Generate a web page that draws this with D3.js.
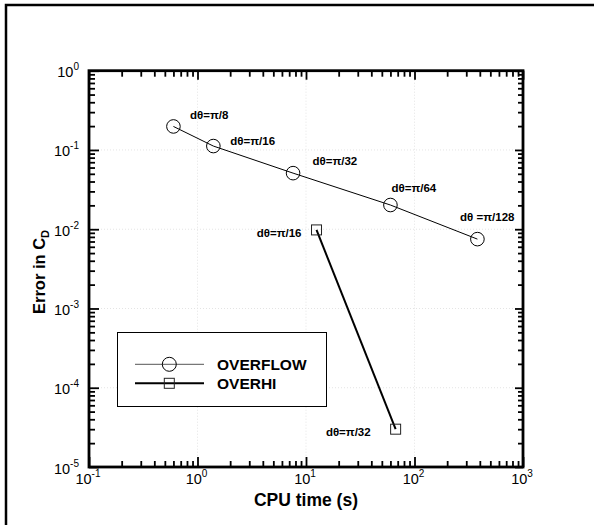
<!DOCTYPE html>
<html>
<head>
<meta charset="utf-8">
<script src="https://cdnjs.cloudflare.com/ajax/libs/d3/7.8.5/d3.min.js"></script>
<style>
  body { margin: 0; background: #fff; }
  text { font-family: "Liberation Sans", Arial, sans-serif; }
</style>
</head>
<body>
<script>
// data
const cpuOverflow = [0.6, 1.4, 7.6, 60, 380];
const errOverflow = [0.198, 0.112, 0.051, 0.0202, 0.0075];
const lblOverflow = ['dθ=π/8', 'dθ=π/16', 'dθ=π/32', 'dθ=π/64', 'dθ =π/128'];
const cpuOverhi = [12.5, 67];
const errOverhi = [0.0098, 3.0e-5];
const lblOverhi = ['dθ=π/16', 'dθ=π/32'];
const xExps = [-1, 0, 1, 2, 3];
const yExps = [0, -1, -2, -3, -4, -5];
const seriesNames = ['OVERFLOW', 'OVERHI'];

const W = 594, H = 525;
const svg = d3.select('body').append('svg')
  .attr('width', W).attr('height', H);

// outer frame (only left/top visible)
svg.append('rect')
  .attr('x', 6).attr('y', 5).attr('width', W + 10).attr('height', H + 10)
  .attr('fill', 'none').attr('stroke', '#000').attr('stroke-width', 2.5);

const L = 89, R = 523, T = 70.7, B = 467;
const x = d3.scaleLog().domain([0.1, 1000]).range([L, R]);
const y = d3.scaleLog().domain([1e-5, 1]).range([B, T]);

const xMajor = xExps.map(e => Math.pow(10, e));
const yMajor = yExps.map(e => Math.pow(10, e));
const xMinor = x.ticks().filter(v => !xMajor.some(m => Math.abs(m - v) / m < 1e-6));
const yMinor = y.ticks().filter(v => !yMajor.some(m => Math.abs(m - v) / m < 1e-6));

// faint dotted grid at decades
const grid = svg.append('g').attr('stroke', '#e4e4e4').attr('stroke-dasharray', '1,2').attr('stroke-width', 1);
grid.selectAll('.gx').data(xMajor.slice(1, -1)).enter().append('line')
  .attr('x1', d => x(d)).attr('x2', d => x(d)).attr('y1', T).attr('y2', B);
grid.selectAll('.gy').data(yMajor.slice(1, -1)).enter().append('line')
  .attr('y1', d => y(d)).attr('y2', d => y(d)).attr('x1', L).attr('x2', R);

// ticks, all inward
function ticks(axis, vals, size, tr) {
  const g = svg.append('g').attr('transform', tr)
    .call(axis.tickValues(vals).tickSize(-size).tickFormat(''));
  g.select('.domain').remove();
  g.selectAll('line').attr('stroke', '#000').attr('stroke-width', 1.8);
}
ticks(d3.axisBottom(x), xMajor, 10, `translate(0,${B})`);
ticks(d3.axisBottom(x), xMinor, 6, `translate(0,${B})`);
ticks(d3.axisTop(x), xMajor, 9, `translate(0,${T})`);
ticks(d3.axisTop(x), xMinor, 6, `translate(0,${T})`);
ticks(d3.axisLeft(y), yMajor, 10, `translate(${L},0)`);
ticks(d3.axisLeft(y), yMinor, 6, `translate(${L},0)`);
ticks(d3.axisRight(y), yMajor, 8, `translate(${R},0)`);
ticks(d3.axisRight(y), yMinor, 5, `translate(${R},0)`);

svg.append('rect')
  .attr('x', L).attr('y', T).attr('width', R - L).attr('height', B - T)
  .attr('fill', 'none').attr('stroke', '#000').attr('stroke-width', 2.8);

// tick labels with superscripts
const xl = svg.append('g').selectAll('text').data(xExps).enter().append('text')
  .attr('x', d => x(Math.pow(10, d)) - 1).attr('y', B + 17)
  .attr('text-anchor', 'middle').attr('font-size', 14.5);
xl.append('tspan').text('10');
xl.append('tspan').attr('dy', -7).attr('font-size', 10).text(d => d);

const yl = svg.append('g').selectAll('text').data(yExps).enter().append('text')
  .attr('x', 79).attr('y', d => y(Math.pow(10, d)) + 6.5)
  .attr('text-anchor', 'end').attr('font-size', 14.5);
yl.append('tspan').text('10');
yl.append('tspan').attr('dy', -7).attr('font-size', 10).text(d => d);

// axis titles
svg.append('text')
  .attr('x', 306).attr('y', 505.5).attr('text-anchor', 'middle')
  .attr('font-size', 17.5).attr('font-weight', 'bold').text('CPU time (s)');
const yt = svg.append('text')
  .attr('transform', 'translate(45,272) rotate(-90)').attr('text-anchor', 'middle')
  .attr('font-size', 16.5).attr('font-weight', 'bold');
yt.append('tspan').text('Error in C');
yt.append('tspan').attr('dy', 4).attr('font-size', 11).text('D');

// series
const ofl = cpuOverflow.map((c, i) => ({ c, e: errOverflow[i], t: lblOverflow[i] }));
const ohi = cpuOverhi.map((c, i) => ({ c, e: errOverhi[i], t: lblOverhi[i] }));
const line = d3.line().x(d => x(d.c)).y(d => y(d.e));

svg.append('path').datum(ofl).attr('d', line)
  .attr('fill', 'none').attr('stroke', '#000').attr('stroke-width', 1);
svg.append('path').datum(ohi).attr('d', line)
  .attr('fill', 'none').attr('stroke', '#000').attr('stroke-width', 2);

svg.selectAll('.circ').data(ofl).enter().append('circle')
  .attr('cx', d => x(d.c)).attr('cy', d => y(d.e)).attr('r', 6.8)
  .attr('fill', 'none').attr('stroke', '#000').attr('stroke-width', 1);
svg.selectAll('.sq').data(ohi).enter().append('rect')
  .attr('x', d => x(d.c) - 5).attr('y', d => y(d.e) - 5)
  .attr('width', 10).attr('height', 10)
  .attr('fill', 'none').attr('stroke', '#222').attr('stroke-width', 1);

// point labels, offset from their points
const oflOff = [[16.6, -7], [17, -1], [19.4, -8], [1, -12.7], [-17.3, -18.3]];
const ohiOff = [[-15, 6.7], [-25, 6.7]];
svg.selectAll('.lo').data(ofl).enter().append('text')
  .attr('x', (d, i) => x(d.c) + oflOff[i][0]).attr('y', (d, i) => y(d.e) + oflOff[i][1])
  .attr('font-size', 11.5).attr('font-weight', 'bold').text(d => d.t);
svg.selectAll('.lh').data(ohi).enter().append('text')
  .attr('x', (d, i) => x(d.c) + ohiOff[i][0]).attr('y', (d, i) => y(d.e) + ohiOff[i][1])
  .attr('text-anchor', 'end')
  .attr('font-size', 11.5).attr('font-weight', 'bold').text(d => d.t);

// legend
const lg = svg.append('g');
lg.append('rect').attr('x', 117.5).attr('y', 332.5).attr('width', 209).attr('height', 74)
  .attr('fill', '#fff').attr('stroke', '#000').attr('stroke-width', 1);
const rows = lg.selectAll('.row').data(seriesNames).enter().append('g')
  .attr('transform', (d, i) => `translate(0,${364.3 + i * 19})`);
rows.append('line').attr('x1', 135).attr('x2', 204).attr('y1', 0).attr('y2', 0)
  .attr('stroke', (d, i) => i ? '#000' : '#555').attr('stroke-width', (d, i) => i ? 2 : 1);
rows.filter((d, i) => i === 0).append('circle').attr('cx', 169.3).attr('cy', 0).attr('r', 7)
  .attr('fill', 'none').attr('stroke', '#000');
rows.filter((d, i) => i === 1).append('rect').attr('x', 164.3).attr('y', -5).attr('width', 10).attr('height', 10)
  .attr('fill', 'none').attr('stroke', '#222');
rows.append('text').attr('x', 217).attr('y', 5.5)
  .attr('font-size', 15.5).attr('font-weight', 'bold').text(d => d);
</script>
</body>
</html>
